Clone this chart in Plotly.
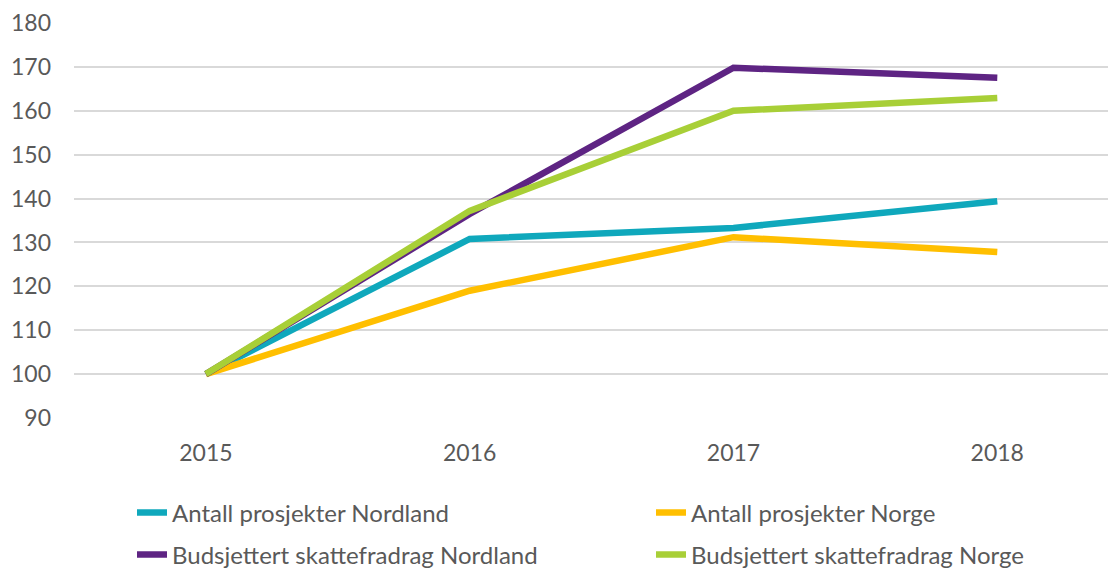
import plotly.graph_objects as go

years = ["2015", "2016", "2017", "2018"]
antall_nordland = [100, 130.8, 133.3, 139.4]
antall_norge = [100, 119.0, 131.2, 127.8]
budsj_nordland = [100, 136.5, 169.8, 167.5]
budsj_norge = [100, 137.2, 160.0, 162.9]

names = ["Antall prosjekter Nordland", "Antall prosjekter Norge",
         "Budsjettert skattefradrag Nordland", "Budsjettert skattefradrag Norge"]
colors = ["#0FA8BC", "#FFBF00", "#5E2483", "#A8CF37"]
series = [antall_nordland, antall_norge, budsj_nordland, budsj_norge]
legends = ["legend", "legend2", "legend3", "legend4"]

# page has an 8px body margin, so figure is drawn 8px shifted
W, H = 1108, 561
leg_px_x = [124, 643, 124, 643]
leg_px_y = [505, 505, 547, 547]

FONT = "Lato, 'Open Sans', sans-serif"
GREY = "#595959"

fig = go.Figure()
for name, col, vals, lg in zip(names, colors, series, legends):
    fig.add_trace(go.Scatter(
        x=years, y=vals, name=name, mode="lines",
        line=dict(color=col, width=6.5), legend=lg,
    ))

legend_layout = {}
for lg, px, py in zip(legends, leg_px_x, leg_px_y):
    legend_layout[lg] = dict(
        x=px / W, y=1 - py / H, xref="container", yref="container",
        xanchor="left", yanchor="middle", orientation="h",
        font=dict(family=FONT, size=24, color=GREY),
        bgcolor="rgba(0,0,0,0)", itemwidth=30, visible=True,
    )

fig.update_layout(
    width=W, height=H, showlegend=True,
    margin=dict(l=66, r=0, t=14.5, b=151, autoexpand=False),
    plot_bgcolor="white", paper_bgcolor="white",
    font=dict(family=FONT, color=GREY),
    xaxis=dict(
        type="category", range=[-0.5, 3.45], showgrid=False, zeroline=False,
        showline=False, ticks="", ticklabelstandoff=19,
        tickfont=dict(family=FONT, size=23, color=GREY),
    ),
    yaxis=dict(
        range=[90, 180], dtick=10, tick0=90, showgrid=True, gridcolor="#D9D9D9",
        gridwidth=2, zeroline=False, showline=False, ticks="",
        ticklabelstandoff=22,
        tickfont=dict(family=FONT, size=23, color=GREY),
    ),
    **legend_layout,
)

fig.write_html("out.html")
